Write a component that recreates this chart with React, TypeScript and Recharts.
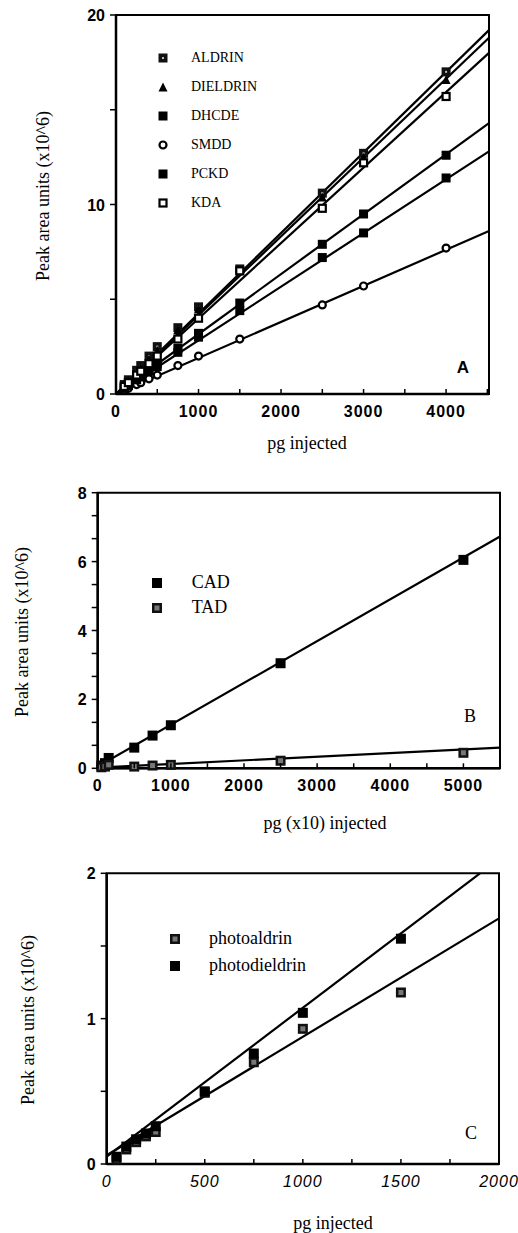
import React from 'react';
import { ComposedChart, Line, Scatter, XAxis, YAxis, ReferenceArea, Legend } from 'recharts';

// ---- panel A: pg injected vs peak area (x10^6)
const doseA = [100, 150, 250, 300, 400, 500, 750, 1000, 1500, 2500, 3000, 4000];
const aldrinA = [0.5, 0.75, 1.25, 1.5, 2.0, 2.5, 3.5, 4.6, 6.6, 10.6, 12.7, 17.0];
const dieldrinA = [0.45, 0.7, 1.15, 1.4, 1.85, 2.3, 3.4, 4.5, 6.5, 10.4, 12.5, 16.6];
const dhcdeA = [0.35, 0.5, 0.85, 1.0, 1.3, 1.6, 2.4, 3.2, 4.8, 7.9, 9.5, 12.6];
const smddA = [0.2, 0.3, 0.5, 0.6, 0.8, 1.0, 1.5, 2.0, 2.9, 4.7, 5.7, 7.7];
const pckdA = [0.3, 0.45, 0.75, 0.9, 1.2, 1.45, 2.2, 3.0, 4.4, 7.2, 8.5, 11.4];
const kdaA = [0.4, 0.6, 1.0, 1.2, 1.6, 2.0, 2.9, 4.0, 6.5, 9.8, 12.2, 15.7];
const namesA = ['ALDRIN', 'DIELDRIN', 'DHCDE', 'SMDD', 'PCKD', 'KDA'];
const markersA = ['dotSquare', 'triangle', 'square', 'circle', 'square', 'openSquare'];
const seriesA = [aldrinA, dieldrinA, dhcdeA, smddA, pckdA, kdaA];
const fitEndA = [19.2, 18.8, 14.3, 8.6, 12.8, 18.0];
const xMaxA = 4520;
const xTicksA = [0, 500, 1000, 1500, 2000, 2500, 3000, 3500, 4000, 4500];
const xLabelsA = [0, 1000, 2000, 3000, 4000];
const yTicksA = [0, 5, 10, 15, 20];
const yLabelsA = [0, 10, 20];

// ---- panel B: pg (x10) injected
const doseB = [50, 100, 150, 500, 750, 1000, 2500, 5000];
const cadB = [0.08, 0.15, 0.3, 0.6, 0.95, 1.25, 3.05, 6.05];
const tadB = [0.03, 0.05, 0.1, 0.05, 0.08, 0.1, 0.22, 0.45];
const namesB = ['CAD', 'TAD'];
const markersB = ['square', 'graySquare'];
const seriesB = [cadB, tadB];
const fitStartB = [0.05, 0.02];
const fitEndB = [6.73, 0.6];
const xMaxB = 5500;
const xTicksB = [0, 500, 1000, 1500, 2000, 2500, 3000, 3500, 4000, 4500, 5000, 5500];
const xLabelsB = [0, 1000, 2000, 3000, 4000, 5000];
const yTicksB = [0, 2 / 3, 4 / 3, 2, 8 / 3, 10 / 3, 4, 14 / 3, 16 / 3, 6, 20 / 3, 22 / 3, 8];
const yLabelsB = [0, 2, 4, 6, 8];

// ---- panel C
const doseC = [50, 100, 150, 200, 250, 500, 750, 1000, 1500];
const photoaldrinC = [0.03, 0.1, 0.15, 0.19, 0.22, 0.49, 0.7, 0.93, 1.18];
const photodieldrinC = [0.05, 0.12, 0.17, 0.21, 0.26, 0.5, 0.76, 1.04, 1.55];
const namesC = ['photoaldrin', 'photodieldrin'];
const markersC = ['graySquare', 'square'];
const seriesC = [photoaldrinC, photodieldrinC];
const fitStartC = [0.06, 0.05];
const fitEndXC = [2000, 1903];
const fitEndC = [1.69, 2.0];
const xTicksC = [0, 250, 500, 750, 1000, 1250, 1500, 1750, 2000];
const xLabelsC = [0, 500, 1000, 1500, 2000];
const yTicksC = [0, 0.5, 1, 1.5, 2];
const yLabelsC = [0, 1, 2];

const serif = '"Liberation Serif", "Times New Roman", "DejaVu Serif", serif';
const sans = '"Liberation Sans", Arial, sans-serif';

function Marker({ kind, cx, cy, size }: { kind: string; cx: number; cy: number; size: number }) {
  const h = size / 2;
  switch (kind) {
    case 'dotSquare':
      return (
        <g>
          <rect x={cx - h} y={cy - h} width={size} height={size} fill="#111" />
          <rect x={cx - 1} y={cy - 1} width={2} height={2} fill="#bbb" />
        </g>
      );
    case 'graySquare':
      return (
        <g>
          <rect x={cx - h} y={cy - h} width={size} height={size} fill="#111" />
          <rect x={cx - h + 2.5} y={cy - h + 2.5} width={size - 5} height={size - 5} fill="#777" />
        </g>
      );
    case 'openSquare':
      return <rect x={cx - h + 1} y={cy - h + 1} width={size - 2} height={size - 2} fill="#fff" stroke="#000" strokeWidth={2.2} />;
    case 'circle':
      return <circle cx={cx} cy={cy} r={h - 1} fill="#fff" stroke="#000" strokeWidth={2.2} />;
    case 'triangle':
      return <polygon points={`${cx},${cy - h} ${cx + h},${cy + h} ${cx - h},${cy + h}`} fill="#000" />;
    default:
      return <rect x={cx - h} y={cy - h} width={size} height={size} fill="#000" />;
  }
}

const isLabel = (labels: number[], v: number) => labels.some((l) => Math.abs(l - v) < 1e-6);

function xTick(labels: number[], italic: boolean) {
  return (p: any) => {
    const v = p.payload.value;
    return (
      <g>
        <line x1={p.x} x2={p.x} y1={p.y} y2={p.y - 5} stroke="#000" strokeWidth={1.5} />
        {isLabel(labels, v) && (
          <text x={p.x} y={p.y + 23} textAnchor="middle" fontFamily={sans} fontSize={16}
            fontWeight={italic ? 'normal' : 'bold'} fontStyle={italic ? 'italic' : 'normal'} letterSpacing={1} fill="#000">
            {v}
          </text>
        )}
      </g>
    );
  };
}

function yTick(labels: number[]) {
  return (p: any) => {
    const v = p.payload.value;
    return (
      <g>
        <line x1={p.x} x2={p.x - 6} y1={p.y} y2={p.y} stroke="#000" strokeWidth={1.5} />
        {isLabel(labels, v) && (
          <text x={p.x - 11} y={p.y + 6} textAnchor="end" fontFamily={sans} fontSize={16} fontWeight="bold" fill="#000">
            {Math.round(v)}
          </text>
        )}
      </g>
    );
  };
}

function LegendBox({ names, markers, rowH, gap, font, size }: any) {
  return (
    <div style={{ fontFamily: serif, fontSize: font, color: '#000' }}>
      {names.map((n: string, i: number) => (
        <div key={n} style={{ display: 'flex', alignItems: 'center', height: rowH }}>
          <svg width={18} height={18}>
            <Marker kind={markers[i]} cx={9} cy={9} size={size} />
          </svg>
          <span style={{ marginLeft: gap, whiteSpace: 'nowrap' }}>{n}</span>
        </div>
      ))}
    </div>
  );
}

const toPts = (xs: number[], ys: number[]) => xs.map((x, i) => ({ x, y: ys[i] }));

const abs = (left: number, top: number, extra: React.CSSProperties = {}): React.CSSProperties => ({
  position: 'absolute', left, top, fontFamily: serif, fontSize: 18, color: '#000', whiteSpace: 'nowrap',
  transform: 'translate(-50%, -50%)', ...extra,
});

function Panel(props: {
  top: number; height: number; margin: any; yWidth: number; xHeight: number;
  xMax: number; yMax: number; xTicks: number[]; xLabels: number[]; yTicks: number[]; yLabels: number[];
  italic?: boolean; series: number[][]; dose: number[]; markers: string[]; names: string[];
  fits: { x: number; y: number }[][]; markerSize: number; legend: any;
}) {
  const p = props;
  return (
    <div style={{ position: 'absolute', left: 0, top: p.top }}>
      <ComposedChart width={518} height={p.height} margin={p.margin}>
        <XAxis dataKey="x" type="number" domain={[0, p.xMax]} ticks={p.xTicks} interval={0}
          height={p.xHeight} tickSize={0} tickMargin={0} tick={xTick(p.xLabels, !!p.italic)}
          axisLine={{ stroke: '#000', strokeWidth: 2.5 }} tickLine={false} />
        <YAxis type="number" domain={[0, p.yMax]} ticks={p.yTicks} interval={0} width={p.yWidth}
          tickSize={0} tickMargin={0} tick={yTick(p.yLabels)}
          axisLine={{ stroke: '#000', strokeWidth: 2.5 }} tickLine={false} />
        <ReferenceArea x1={0} x2={p.xMax} y1={0} y2={p.yMax} fill="none" stroke="#000" strokeWidth={2} />
        {p.fits.map((f, i) => (
          <Line key={'f' + i} data={f} dataKey="y" type="linear" stroke="#000" strokeWidth={2.2}
            dot={false} isAnimationActive={false} legendType="none" />
        ))}
        {p.series.map((s, i) => (
          <Scatter key={'s' + i} name={p.names[i]} data={toPts(p.dose, s)} dataKey="y" isAnimationActive={false}
            shape={(sp: any) => <Marker kind={p.markers[i]} cx={sp.cx} cy={sp.cy} size={p.markerSize} />} />
        ))}
        <Legend layout="horizontal" verticalAlign="middle" align="center"
          wrapperStyle={{ left: p.legend.left, top: p.legend.top, width: 'auto', height: 'auto' }}
          content={() => <LegendBox {...p.legend} names={p.names} markers={p.markers} />} />
      </ComposedChart>
    </div>
  );
}

export default function App() {
  const fitsA = fitEndA.map((e) => [{ x: 0, y: 0 }, { x: xMaxA, y: e }]);
  const fitsB = fitEndB.map((e, i) => [{ x: 0, y: fitStartB[i] }, { x: xMaxB, y: e }]);
  const fitsC = fitEndC.map((e, i) => [{ x: 0, y: fitStartC[i] }, { x: fitEndXC[i], y: e }]);
  return (
    <div style={{ position: 'absolute', left: 0, top: 0, width: 518, height: 1233, background: '#fff', overflow: 'hidden' }}>
      <Panel top={0} height={430} margin={{ top: 15, right: 29, bottom: 0, left: 0 }} yWidth={116} xHeight={36}
        xMax={xMaxA} yMax={20} xTicks={xTicksA} xLabels={xLabelsA} yTicks={yTicksA} yLabels={yLabelsA}
        series={seriesA} dose={doseA} markers={markersA} names={namesA} fits={fitsA} markerSize={9}
        legend={{ left: 154, top: 43.5, rowH: 29, gap: 19, font: 14, size: 9 }} />
      <Panel top={470} height={330} margin={{ top: 22.7, right: 18, bottom: 0, left: 0 }} yWidth={97.7} xHeight={31.7}
        xMax={xMaxB} yMax={8} xTicks={xTicksB} xLabels={xLabelsB} yTicks={yTicksB} yLabels={yLabelsB}
        series={seriesB} dose={doseB} markers={markersB} names={namesB} fits={fitsB} markerSize={10}
        legend={{ left: 147.7, top: 100.2, rowH: 25, gap: 26, font: 18, size: 10 }} />
      <Panel top={850} height={383} margin={{ top: 23.3, right: 19, bottom: 0, left: 0 }} yWidth={106.7} xHeight={69}
        xMax={2000} yMax={2} xTicks={xTicksC} xLabels={xLabelsC} yTicks={yTicksC} yLabels={yLabelsC} italic
        series={seriesC} dose={doseC} markers={markersC} names={namesC} fits={fitsC} markerSize={10}
        legend={{ left: 166, top: 75.6, rowH: 26.7, gap: 25, font: 18, size: 10 }} />

      <div style={abs(43, 196, { transform: 'translate(-50%, -50%) rotate(-90deg)' })}>Peak area units (x10^6)</div>
      <div style={abs(307, 443)}>pg injected</div>
      <div style={abs(463, 368, { fontFamily: sans, fontWeight: 'bold', fontSize: 17 })}>A</div>

      <div style={abs(22, 632, { transform: 'translate(-50%, -50%) rotate(-90deg)' })}>Peak area units (x10^6)</div>
      <div style={abs(325, 823)}>pg (x10) injected</div>
      <div style={abs(470, 716)}>B</div>

      <div style={abs(28, 1020, { transform: 'translate(-50%, -50%) rotate(-90deg)' })}>Peak area units (x10^6)</div>
      <div style={abs(333, 1223)}>pg injected</div>
      <div style={abs(471, 1133)}>C</div>
    </div>
  );
}
